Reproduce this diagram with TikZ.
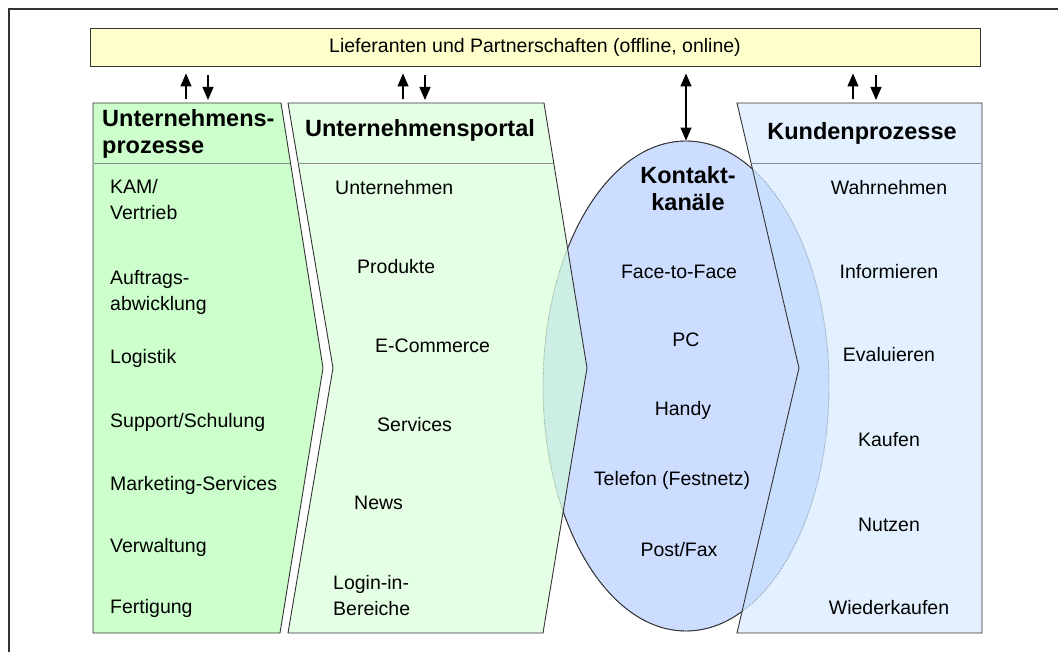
\documentclass[tikz,border=0pt]{standalone}
\usepackage{fontspec}
\setmainfont{Liberation Sans}
\usetikzlibrary{arrows.meta,shapes.geometric}
\definecolor{barfill}{HTML}{FFFFCC}
\definecolor{procfill}{HTML}{CCFFCC}
\definecolor{kanalfill}{HTML}{CCDDFF}
\definecolor{kundfill}{HTML}{C6E2FF}
\definecolor{rim}{HTML}{333333}

\begin{document}
\begin{tikzpicture}[x=1pt,y=-1pt,
    item/.style={font=\fontsize{19.5}{26}\selectfont,align=left,inner sep=0pt},
    citem/.style={item,align=center},
    head/.style={font=\fontsize{23.5}{27}\selectfont\bfseries,inner sep=0pt},
    teil/.style={draw=rim,line width=0.9pt},
    split/.style={draw=black!45,line width=0.8pt},
    pfeil/.style={line width=1.2pt,-{Triangle[width=11pt,length=13pt]}}]
      \useasboundingbox (0,0) rectangle (1058,652);
      \draw[rim,line width=2pt] (9,652) -- (9,9) -- (1058,9);
      \node[draw=rim,fill=barfill,line width=0.9pt,minimum width=890pt,minimum height=38pt,inner sep=0pt,
        font=\fontsize{19.5}{24}\selectfont] (bar) at (535,47) {Lieferanten und Partnerschaften (offline, online)};
      \node[ellipse,draw=rim!80,densely dotted,fill=kanalfill,line width=0.9pt,minimum width=286pt,minimum height=490pt,inner sep=0pt] (kanal) at (686,386) {};
      % Chevrons und Kundenblock
      \draw[teil,fill=procfill] (93,103) -- (281,103) -- (323,368) -- (280,633) -- (93,633) -- cycle;
      \draw[teil,fill=procfill,fill opacity=0.5] (288,103) -- (544,103) -- (587,368) -- (543,633) -- (288,633) -- (333,368) -- cycle;
      \draw[teil,fill=kundfill,fill opacity=0.5] (737,103) -- (982,103) -- (982,633) -- (737,633) -- (799,368) -- cycle;
      % sichtbarer Rand der Ellipse zwischen den Bloecken
      \begin{scope}
        \clip (544,103) -- (587,368) -- (543,633) -- (737,633) -- (799,368) -- (737,103) -- cycle;
        \draw[rim,line width=0.9pt] (kanal.center) ellipse [x radius=143,y radius=245];
      \end{scope}
      \draw[split] (94,163) -- (290,163);
      \draw[split] (298,163) -- (553,163);
      \draw[split] (752,163) -- (981,163);
      % Kopfzeilen
      \node[head,align=left,anchor=west] (headL) at (102,134) {Unternehmens-\\prozesse};
      \node[head] (headM) at (420,130) {Unternehmensportal};
      \node[head,align=center] (headK) at (688,189) {Kontakt-\\kanäle};
      \node[head] (headR) at (862,133) {Kundenprozesse};
      % Unternehmensprozesse
      \node[item,anchor=west] (u1) at (110,200) {KAM/\\Vertrieb};
      \node[item,anchor=west] (u2) at (110,292) {Auftrags-\\abwicklung};
      \node[item,anchor=west] (u3) at (110,358) {Logistik};
      \node[item,anchor=west] (u4) at (110,422) {Support/Schulung};
      \node[item,anchor=west] (u5) at (110,485) {Marketing-Services};
      \node[item,anchor=west] (u6) at (110,547) {Verwaltung};
      \node[item,anchor=west] (u7) at (110,608) {Fertigung};
      % Unternehmensportal
      \node[item,anchor=west] (p1) at (335,188) {Unternehmen};
      \node[item,anchor=west] (p2) at (357,267) {Produkte};
      \node[item,anchor=west] (p3) at (375,346) {E-Commerce};
      \node[item,anchor=west] (p4) at (377,425) {Services};
      \node[item,anchor=west] (p5) at (354,503) {News};
      \node[item,anchor=west] (p6) at (333,596) {Login-in-\\Bereiche};
      % Kontaktkanaele
      \node[citem] (k1) at (679,272) {Face-to-Face};
      \node[citem] (k2) at (686,340) {PC};
      \node[citem] (k3) at (683,410) {Handy};
      \node[citem] (k4) at (672,480) {Telefon (Festnetz)};
      \node[citem] (k5) at (679,550) {Post/Fax};
      % Kundenprozesse
      \node[citem] (c1) at (889,188) {Wahrnehmen};
      \node[citem] (c2) at (889,272) {Informieren};
      \node[citem] (c3) at (889,355) {Evaluieren};
      \node[citem] (c4) at (889,440) {Kaufen};
      \node[citem] (c5) at (889,525) {Nutzen};
      \node[citem] (c6) at (889,608) {Wiederkaufen};
      % Pfeile zur Leiste
      \coordinate (a1) at (186,103);
      \coordinate (b1) at (208,103);
      \coordinate (a2) at (403,103);
      \coordinate (b2) at (425,103);
      \coordinate (a4) at (853,103);
      \coordinate (b4) at (876,103);
      \draw[pfeil,shorten <=4pt,shorten >=7pt] (a1) -- (a1 |- bar.south);
      \draw[pfeil,shorten <=9pt,shorten >=3pt] (b1 |- bar.south) -- (b1);
      \draw[pfeil,shorten <=4pt,shorten >=7pt] (a2) -- (a2 |- bar.south);
      \draw[pfeil,shorten <=9pt,shorten >=3pt] (b2 |- bar.south) -- (b2);
      \draw[pfeil,shorten <=4pt,shorten >=7pt] (a4) -- (a4 |- bar.south);
      \draw[pfeil,shorten <=9pt,shorten >=3pt] (b4 |- bar.south) -- (b4);
      \draw[pfeil,{Triangle[width=11pt,length=13pt]}-{Triangle[width=11pt,length=13pt]},shorten <=7pt] (kanal.north |- bar.south) -- (kanal.north);
\end{tikzpicture}
\end{document}
